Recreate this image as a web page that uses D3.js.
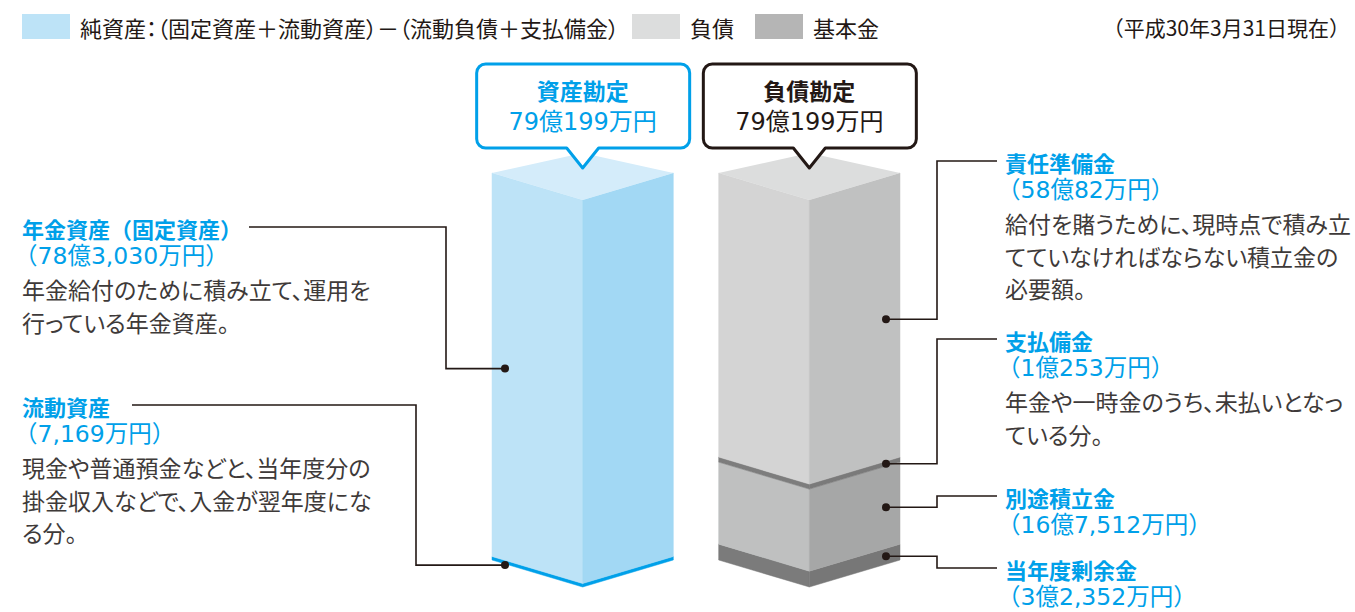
<!DOCTYPE html>
<html>
<head>
<meta charset="utf-8">
<script src="https://cdn.jsdelivr.net/npm/d3@7"></script>
<style>
  body { margin: 0; background: #fff; }
  svg { display: block; font-family: "Noto Sans CJK JP", "Noto Sans", sans-serif; }
  .palt { font-feature-settings: "palt"; }
  .num { font-family: "DejaVu Sans", "Noto Sans CJK JP", sans-serif; }
</style>
</head>
<body>
<svg id="chart" width="1355" height="612"></svg>
<script>
// values in 万円
const columnNames = ['資産勘定', '負債勘定'];
const assetNames = ['流動資産', '年金資産（固定資産）'];          // bottom -> top
const assetValues = [7169, 783030];
const liabNames = ['当年度剰余金', '別途積立金', '支払備金', '責任準備金'];  // bottom -> top
const liabValues = [32352, 167512, 10253, 580082];
const assetNotes = [
  ['現金や普通預金などと、当年度分の', '掛金収入などで、入金が翌年度にな', 'る分。'],
  ['年金給付のために積み立て、運用を', '行っている年金資産。']
];
const liabNotes = [
  [],
  [],
  ['年金や一時金のうち、未払いとなっ', 'ている分。'],
  ['給付を賭うために、現時点で積み立', 'てていなければならない積立金の', '必要額。']
];
const legendLabels = ['純資産：（固定資産＋流動資産）－（流動負債＋支払備金）', '負債', '基本金'];
const asOfLabel = '（平成30年3月31日現在）';

const svg = d3.select('svg#chart');
const blue = '#00a0e9', ink = '#231815', body = '#3e3a39';

// colours: [front-left face, right face]
const assetFill = {
  '流動資産': ['#00a0e9', '#00a0e9'],
  '年金資産（固定資産）': ['#bde3f7', '#a2d8f4']
};
const liabFill = {
  '当年度剰余金': ['#7b7b7b', '#777777'],
  '別途積立金': ['#bfc0c0', '#a6a7a7'],
  '支払備金': ['#7d7d7d', '#7a7a7a'],
  '責任準備金': ['#d4d4d4', '#c0c1c1']
};
const topFill = ['#d4ecfa', '#dcdddd'];
const legendFill = ['#bde3f7', '#dcdddd', '#b5b5b5'];

const fmtMan = v => {
  const oku = Math.floor(v / 10000), man = v % 10000;
  return (oku ? oku + '億' : '') + (man ? d3.format(',')(man) : '') + '万円';
};

// scales
const x = d3.scaleBand().domain(columnNames).range([492, 900]).paddingInner(0.2).paddingOuter(0);
const total = d3.sum(assetValues);
const y = d3.scaleLinear().domain([0, total]).range([587, 200]);
const dyFront = 27, dyBack = 47;

function stack(names, values) {
  let acc = 0;
  return names.map((n, i) => {
    const d = {name: n, value: values[i], v0: acc, v1: acc + values[i]};
    acc += values[i];
    return d;
  });
}

const columns = [
  {name: columnNames[0], segs: stack(assetNames, assetValues), fill: assetFill, top: topFill[0]},
  {name: columnNames[1], segs: stack(liabNames, liabValues), fill: liabFill, top: topFill[1]}
];

// legend
const legendPos = [22, 632, 755];
legendLabels.forEach((t, i) => {
  svg.append('rect').attr('x', legendPos[i]).attr('y', 14).attr('width', 48).attr('height', 25)
    .attr('fill', legendFill[i]);
  svg.append('text').attr('class', 'palt').attr('x', legendPos[i] + 58).attr('y', 27)
    .attr('dominant-baseline', 'central')
    .attr('font-size', 22).attr('fill', ink).text(t);
});
svg.append('text').attr('x', 1350).attr('y', 27).attr('dominant-baseline', 'central')
  .attr('text-anchor', 'end').attr('font-size', 21).attr('fill', ink).text(asOfLabel);

// columns
const cg = svg.append('g');
columns.forEach(col => {
  const L = x(col.name), R = L + x.bandwidth(), C = (L + R) / 2;
  col.L = L; col.R = R; col.C = C;
  const g = cg.append('g');
  col.segs.forEach(s => {
    const yb = y(s.v0), yt = y(s.v1);
    g.append('path')
      .attr('d', `M${L},${yt - dyFront}L${C},${yt}L${C},${yb}L${L},${yb - dyFront}Z`)
      .attr('fill', col.fill[s.name][0]).attr('stroke', col.fill[s.name][0]).attr('stroke-width', 0.5);
    g.append('path')
      .attr('d', `M${C},${yt}L${R},${yt - dyFront}L${R},${yb - dyFront}L${C},${yb}Z`)
      .attr('fill', col.fill[s.name][1]).attr('stroke', col.fill[s.name][1]).attr('stroke-width', 0.5);
  });
  const yTop = y(total);
  g.append('path')
    .attr('d', `M${L},${yTop - dyFront}L${C},${yTop - dyBack}L${R},${yTop - dyFront}L${C},${yTop}Z`)
    .attr('fill', col.top);
});

// speech bubbles
const bubbleColor = [blue, ink];
columns.forEach((col, i) => {
  const bx0 = col.C - 106, bx1 = col.C + 107, by0 = 64, by1 = 148, r = 9, tw = 16, tip = 168;
  const d = `M${bx0 + r},${by0}H${bx1 - r}A${r},${r} 0 0 1 ${bx1},${by0 + r}V${by1 - r}` +
    `A${r},${r} 0 0 1 ${bx1 - r},${by1}H${col.C + tw}L${col.C},${tip}L${col.C - tw},${by1}` +
    `H${bx0 + r}A${r},${r} 0 0 1 ${bx0},${by1 - r}V${by0 + r}A${r},${r} 0 0 1 ${bx0 + r},${by0}Z`;
  svg.append('path').attr('d', d).attr('fill', '#fff').attr('stroke', bubbleColor[i])
    .attr('stroke-width', 3).attr('stroke-linejoin', 'round');
  svg.append('text').attr('x', col.C).attr('y', 90).attr('text-anchor', 'middle')
    .attr('dominant-baseline', 'central').attr('font-size', 23).attr('font-weight', 'bold')
    .attr('fill', bubbleColor[i]).text(col.name);
  svg.append('text').attr('class', 'num').attr('x', col.C).attr('y', 122).attr('text-anchor', 'middle')
    .attr('dominant-baseline', 'central').attr('font-size', 24)
    .attr('fill', bubbleColor[i]).text(fmtMan(d3.sum(col.segs, s => s.value)));
});

// annotations
const leftLayout = {
  '年金資産（固定資産）': {ty: 228, from: 249, elbow: 446},
  '流動資産': {ty: 406, from: 132, elbow: 416}
};
const rightLayout = {
  '責任準備金': {ty: 162},
  '支払備金': {ty: 340},
  '別途積立金': {ty: 497},
  '当年度剰余金': {ty: 569}
};

function writeBlock(tx, ty, title, value, notes) {
  const g = svg.append('g').attr('dominant-baseline', 'central');
  g.append('text').attr('x', tx).attr('y', ty).attr('font-size', 22).attr('font-weight', 'bold')
    .attr('fill', blue).text(title);
  g.append('text').attr('class', 'num').attr('x', tx - 8).attr('y', ty + 28).attr('font-size', 23.5)
    .attr('fill', blue).text('（' + fmtMan(value) + '）');
  notes.forEach((line, k) => {
    g.append('text').attr('class', 'palt').attr('x', tx).attr('y', ty + 61 + k * 32.5)
      .attr('font-size', 23).attr('fill', body).text(line);
  });
}

function dot(px, py) {
  svg.append('circle').attr('cx', px).attr('cy', py).attr('r', 4).attr('fill', ink);
}

const lineG = svg.append('g').attr('fill', 'none').attr('stroke', ink).attr('stroke-width', 1.6);

// left column (assets)
const cA = columns[0];
cA.segs.forEach((s, i) => {
  const lay = leftLayout[s.name];
  writeBlock(22, lay.ty, s.name, s.value, assetNotes[i]);
  const px = cA.L + 13;
  const off = dyFront * (1 - (px - cA.L) / (cA.C - cA.L));
  const py = (y(s.v0) + y(s.v1)) / 2 - off + (s.value < 20000 ? 3 : 0);
  lineG.append('path').attr('d', `M${lay.from},${lay.ty - 1}H${lay.elbow}V${py}H${px}`);
  dot(px, py);
});

// right column (liabilities)
const cL = columns[1];
cL.segs.forEach((s, i) => {
  const lay = rightLayout[s.name];
  writeBlock(1005, lay.ty, s.name, s.value, liabNotes[i]);
  const px = cL.R - 14;
  const off = dyFront * (px - cL.C) / (cL.R - cL.C);
  const py = (y(s.v0) + y(s.v1)) / 2 - off;
  lineG.append('path').attr('d', `M997,${lay.ty - 1}H937V${py}H${px}`);
  dot(px, py);
});
</script>
</body>
</html>
